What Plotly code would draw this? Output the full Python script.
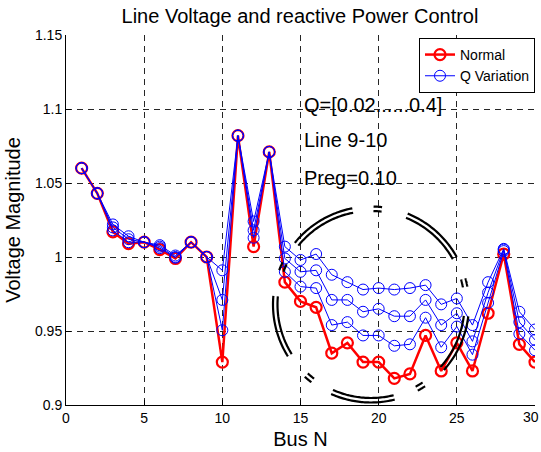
import numpy as np
import plotly.graph_objects as go

bus = list(range(1, 31))
normal = [1.060, 1.043, 1.017, 1.009, 1.010, 1.005, 0.999, 1.010, 1.000, 0.929,
          1.082, 1.007, 1.071, 0.983, 0.970, 0.966, 0.935, 0.942, 0.929, 0.929,
          0.918, 0.921, 0.947, 0.923, 0.942, 0.923, 0.962, 1.002, 0.941, 0.929]
qvar1 = [1.060, 1.043, 1.018, 1.010, 1.010, 1.006, 0.9995, 1.010, 1.000, 0.9505,
         1.082, 1.013, 1.071, 0.990, 0.980, 0.979, 0.954, 0.956, 0.947, 0.947,
         0.940, 0.941, 0.959, 0.939, 0.953, 0.934, 0.969, 1.004, 0.948, 0.937]
qvar2 = [1.060, 1.043, 1.020, 1.012, 1.010, 1.007, 1.000, 1.010, 1.000, 0.971,
         1.082, 1.018, 1.071, 0.999, 0.990, 0.991, 0.971, 0.971, 0.963, 0.965,
         0.960, 0.960, 0.971, 0.954, 0.962, 0.943, 0.976, 1.005, 0.956, 0.944]
qvar3 = [1.060, 1.043, 1.022, 1.014, 1.010, 1.008, 1.001, 1.010, 1.000, 0.991,
         1.082, 1.024, 1.071, 1.007, 0.998, 1.002, 0.988, 0.983, 0.978, 0.979,
         0.978, 0.979, 0.981, 0.968, 0.972, 0.954, 0.983, 1.0055, 0.963, 0.951]
x_ticks = [0, 5, 10, 15, 20, 25, 30]
x_ticktext = ["0", "5", "10", "15", "20", "25", ""]
last_x_label = "30"
y_ticks = [0.9, 0.95, 1.0, 1.05, 1.1, 1.15]
y_ticktext = ["0.9", "0.95", "1", "1.05", "1.1", "1.15"]
notes = ["Q=[0.02......0.4]", "Line 9-10", "Preg=0.10"]
note_y = [1.1027, 1.079, 1.0534]

FONT = "Liberation Sans, Arial"
W, H = 541, 452
ml, mr, mt, mb = 66, 6, 35, 47
pw, ph = W - ml - mr, H - mt - mb
x0, x1, y0, y1 = 0, 30, 0.9, 1.15
sx = pw / (x1 - x0)
sy = ph / (y1 - y0)

fig = go.Figure()
fig.add_trace(go.Scatter(x=bus, y=normal, mode="lines+markers", name="Normal",
                         line=dict(color="red", width=2.5),
                         marker=dict(symbol="circle-open", size=11, color="red",
                                     line=dict(width=2.2, color="red"))))
for i, q in enumerate([qvar1, qvar2, qvar3]):
    fig.add_trace(go.Scatter(x=bus, y=q, mode="lines+markers", name="Q Variation",
                             showlegend=(i == 0),
                             line=dict(color="blue", width=1),
                             marker=dict(symbol="circle-open", size=11, color="blue",
                                         line=dict(width=1, color="blue"))))

# dashed double circle decoration
cxp = 371 - ml
cyp = 304.5 - mt
cx = x0 + cxp / sx
cy = y1 - cyp / sy
long_arcs = [(29, 68), (101, 141), (175, 212), (246, 284), (318, 353)]
short_centers = [86, 157, 230, 301, 13]
segs = long_arcs + [(c - 2.5, c + 2.5) for c in short_centers]
for R in [93.5, 98.0]:
    rx, ry = R / sx, R / sy
    for a0, a1 in segs:
        t = np.radians(np.linspace(a0, a1, 40))
        px = cx + rx * np.cos(t)
        py = cy + ry * np.sin(t)
        path = "M " + " L ".join(f"{a:.5f},{b:.6f}" for a, b in zip(px, py))
        fig.add_shape(type="path", path=path, xref="x", yref="y",
                      line=dict(color="black", width=2.2), layer="above")

for t, yy in zip(notes, note_y):
    fig.add_annotation(x=15.1, y=yy, text=t, showarrow=False, xanchor="left",
                       yanchor="middle", font=dict(family=FONT, size=20, color="black"))

# last x tick label, kept inside the page
fig.add_annotation(x=1, xref="paper", xanchor="right", xshift=6, y=0, yref="paper",
                   yanchor="top", yshift=-2, text=last_x_label, showarrow=False,
                   font=dict(family=FONT, size=14, color="black"))

axis_common = dict(showgrid=True, gridcolor="rgba(0,0,0,0.85)", griddash="6px,5px", gridwidth=1,
                   showline=True, linecolor="black", linewidth=1, ticks="inside", ticklen=5,
                   tickcolor="black", zeroline=False,
                   tickfont=dict(family=FONT, size=14, color="black"))
fig.update_xaxes(range=[x0, x1], tickvals=x_ticks, ticktext=x_ticktext, **axis_common,
                 title=dict(text="Bus N", font=dict(family=FONT, size=20, color="black"), standoff=7))
fig.update_yaxes(range=[y0, y1], tickvals=y_ticks, ticktext=y_ticktext, **axis_common,
                 title=dict(text="Voltage Magnitude", font=dict(family=FONT, size=20, color="black"), standoff=8))

fig.update_layout(
    width=W, height=H,
    margin=dict(l=ml, r=mr, t=mt, b=mb, autoexpand=False),
    paper_bgcolor="white", plot_bgcolor="white",
    title=dict(text="Line Voltage and reactive Power Control", x=0.5545, xanchor="center",
               y=1 - 16 / H, yanchor="middle",
               font=dict(family=FONT, size=20, color="black")),
    legend=dict(x=1, xanchor="right", y=0.992, yanchor="top", bgcolor="white",
                bordercolor="black", borderwidth=1, tracegroupgap=0,
                font=dict(family=FONT, size=14, color="black")),
    showlegend=True,
)

fig.write_html("out.html")
